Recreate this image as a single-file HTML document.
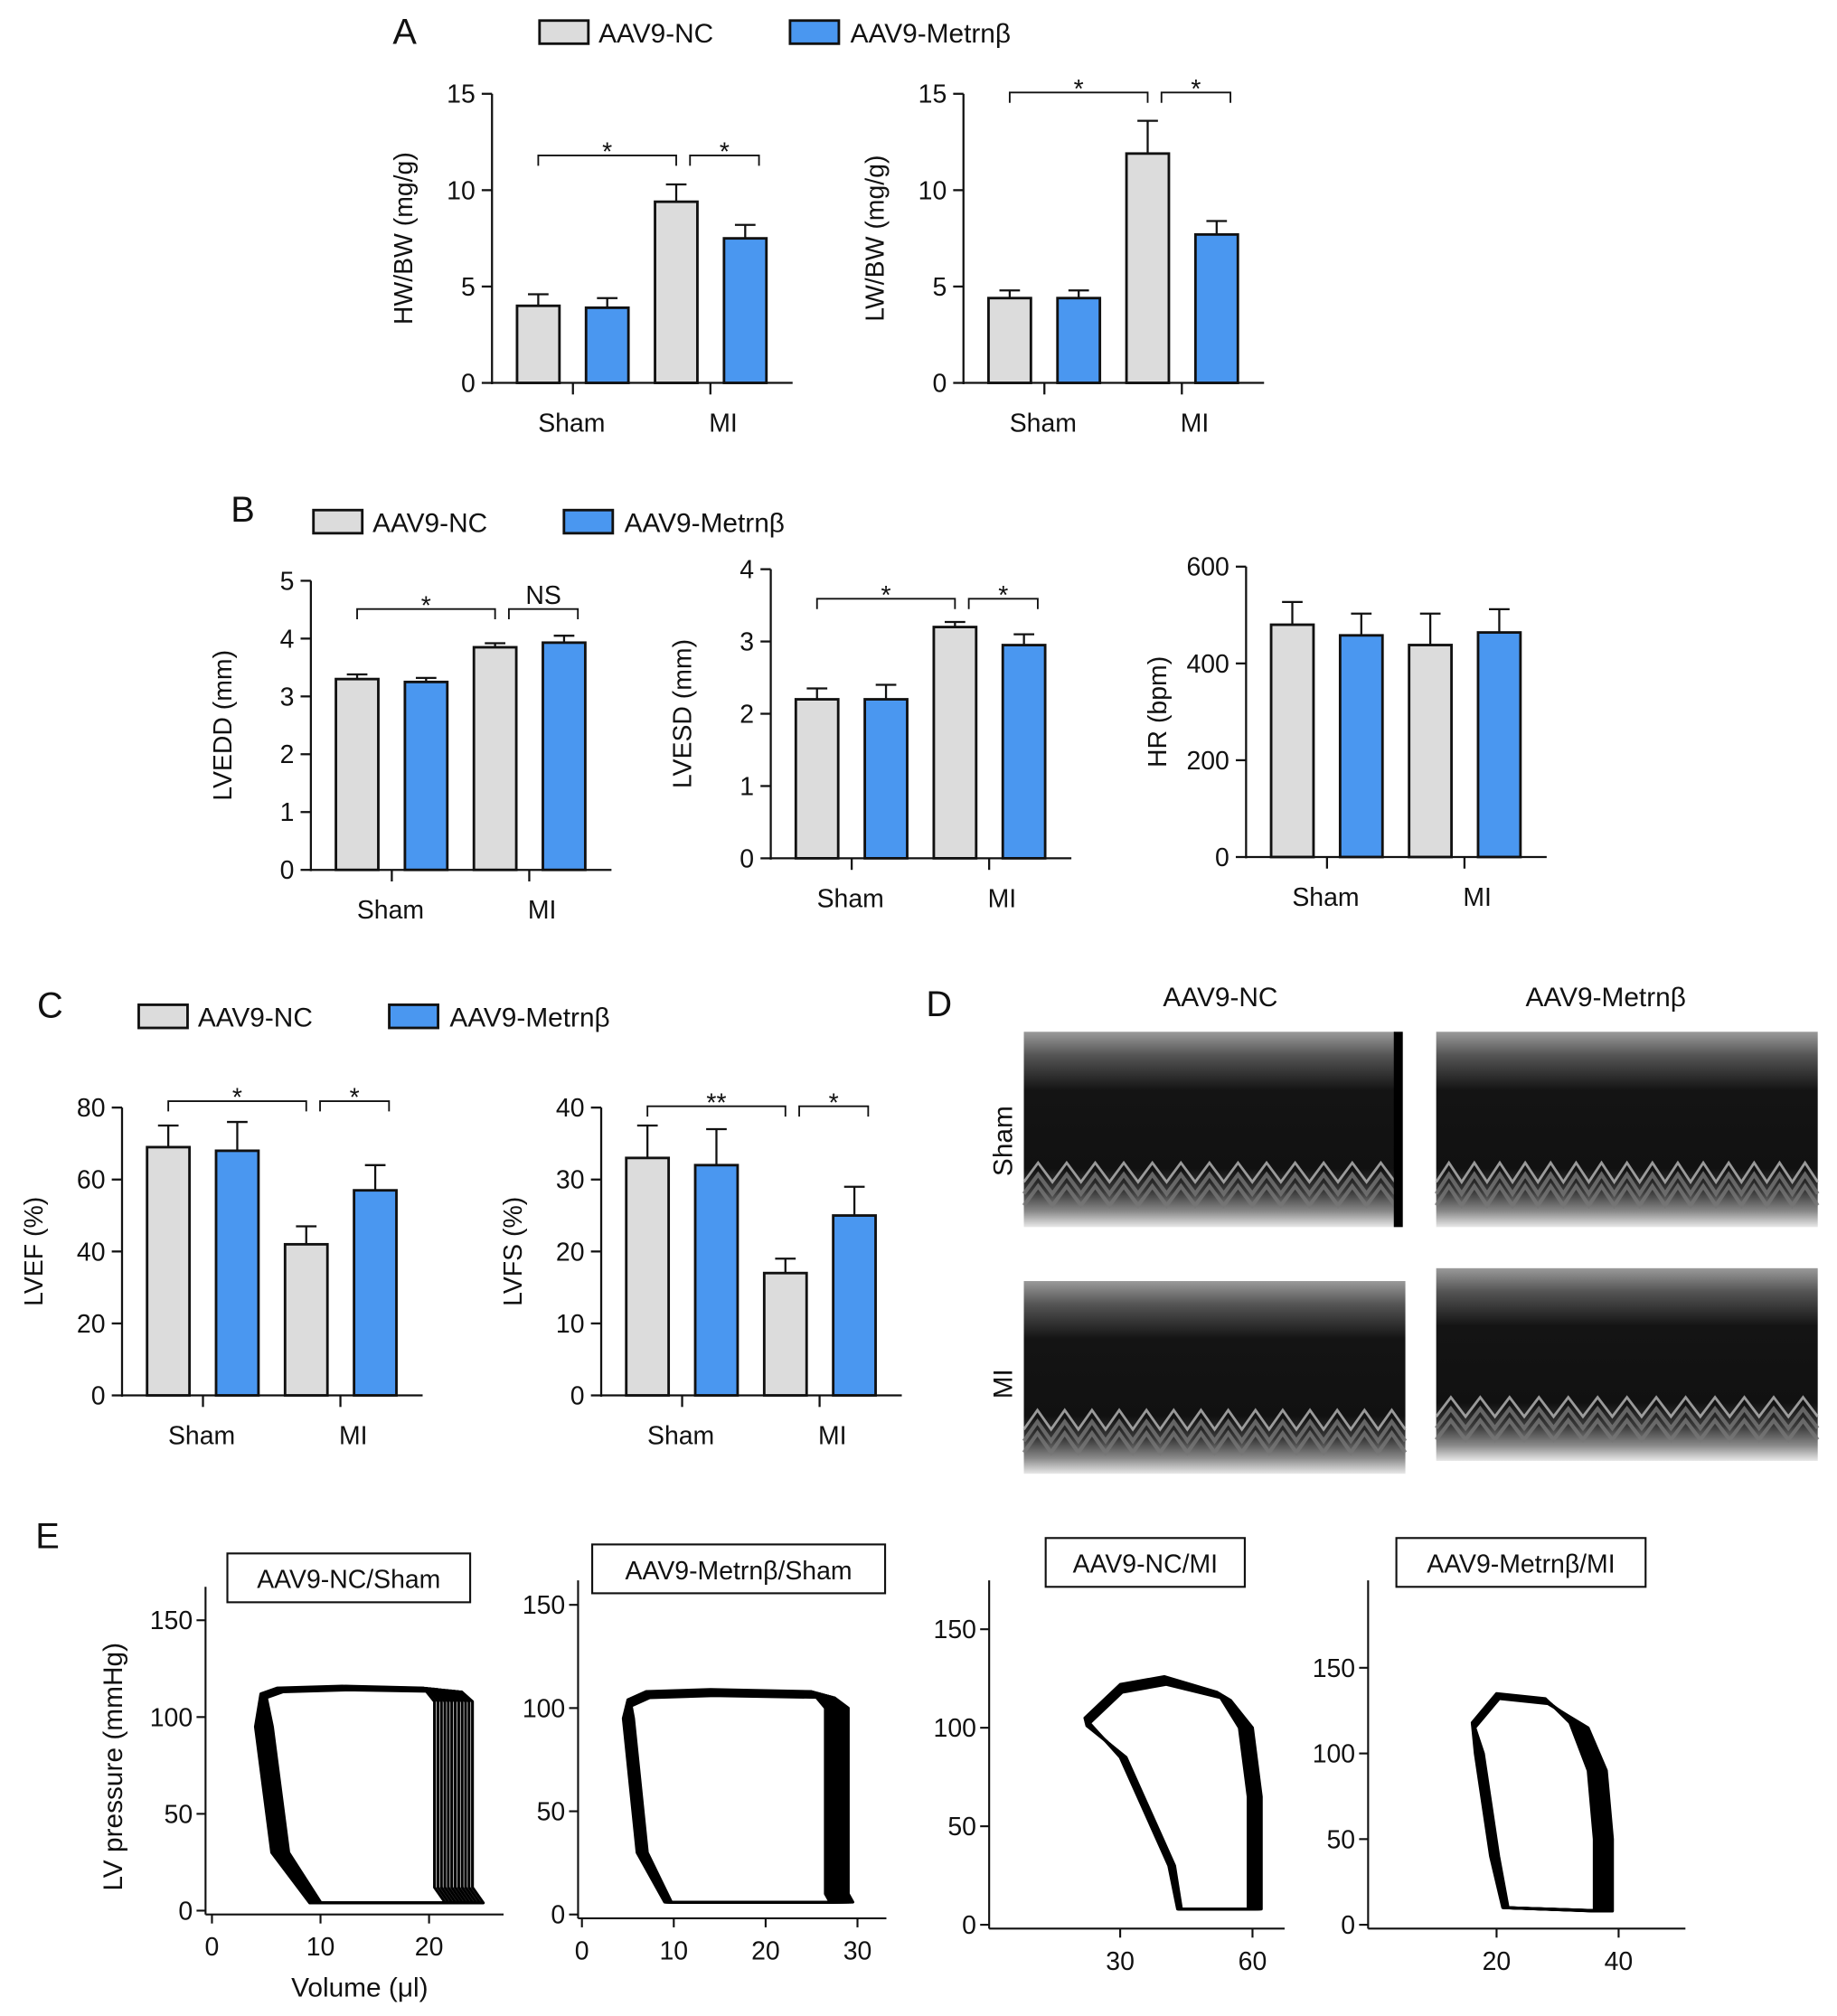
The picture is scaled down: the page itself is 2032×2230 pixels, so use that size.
<!DOCTYPE html>
<html><head><meta charset="utf-8">
<style>
html,body{margin:0;padding:0;background:#fff;}
svg{display:block;font-family:"Liberation Sans",Arial,sans-serif;}
</style></head>
<body>
<svg id="fig" width="2032" height="2230" viewBox="0 0 1430 1569" preserveAspectRatio="none" xmlns="http://www.w3.org/2000/svg">
<defs>
<linearGradient id="echoG" x1="0" y1="0" x2="0" y2="1">
<stop offset="0" stop-color="#9a9a9a"/><stop offset="0.12" stop-color="#555"/><stop offset="0.3" stop-color="#141414"/><stop offset="0.7" stop-color="#111"/><stop offset="0.82" stop-color="#3a3a3a"/><stop offset="0.92" stop-color="#8a8a8a"/><stop offset="1" stop-color="#e8e8e8"/>
</linearGradient>
</defs>
</svg>
<script>
const NS='http://www.w3.org/2000/svg';
const svg=document.getElementById('fig');
function el(tag,attrs,parent){const e=document.createElementNS(NS,tag);for(const k in attrs)e.setAttribute(k,attrs[k]);(parent||svg).appendChild(e);return e;}
function txt(x,y,s,size,anchor,parent,rot){const t=el('text',{x:x,y:y,'font-size':size,'text-anchor':anchor||'middle',fill:'#111'},parent);if(rot)t.setAttribute('transform','rotate(-90 '+x+' '+y+')');t.textContent=s;return t;}

// ===== data =====
const groups=['Sham','MI'];
const seriesNames=['AAV9-NC','AAV9-Metrnβ'];
const hwbwVals=[4.0,3.9,9.4,7.5]; const hwbwErr=[0.6,0.5,0.9,0.7];
const lwbwVals=[4.4,4.4,11.9,7.7]; const lwbwErr=[0.4,0.4,1.7,0.7];
const lveddVals=[3.3,3.25,3.85,3.93]; const lveddErr=[0.08,0.07,0.07,0.12];
const lvesdVals=[2.2,2.2,3.2,2.95]; const lvesdErr=[0.15,0.2,0.07,0.15];
const hrVals=[480,458,438,464]; const hrErr=[47,45,65,48];
const lvefVals=[69,68,42,57]; const lvefErr=[6,8,5,7];
const lvfsVals=[33,32,17,25]; const lvfsErr=[4.5,5,2,4];
const ticks15=[0,5,10,15], ticks5=[0,1,2,3,4,5], ticks4=[0,1,2,3,4], ticks600=[0,200,400,600], ticks80=[0,20,40,60,80], ticks40=[0,10,20,30,40];

function barChart(c){
  const g=el('g',{});
  
  
  const y=v=>c.y0-(v/c.max)*(c.y0-c.yTop);
  const colors=['#dcdcdc','#4a97f0'];
  c.vals.forEach((v,i)=>{
    const cx=c.x0+36+i*53.7;
    const eb=el('line',{x1:cx,x2:cx,y1:y(v),y2:y(v+c.err[i]),stroke:'#111','stroke-width':1.6},g);
    el('line',{x1:cx-8,x2:cx+8,y1:y(v+c.err[i]),y2:y(v+c.err[i]),stroke:'#111','stroke-width':1.6},g);
    const r=el('rect',{x:cx-16.5,y:y(v),width:33,height:c.y0-y(v),fill:colors[i%2],stroke:'#111','stroke-width':2},g);
    
    
  });
  el('line',{x1:c.x0,x2:c.x0,y1:c.y0+1,y2:c.yTop,stroke:'#111','stroke-width':1.6},g);
  el('line',{x1:c.x0,x2:c.x0+234,y1:c.y0,y2:c.y0,stroke:'#111','stroke-width':1.6},g);
  c.ticks.forEach(t=>{el('line',{x1:c.x0-8,x2:c.x0,y1:y(t),y2:y(t),stroke:'#111','stroke-width':1.6},g);txt(c.x0-13,y(t)+7,String(t),20,'end',g);});
  [c.x0+63,c.x0+170].forEach(x=>el('line',{x1:x,x2:x,y1:c.y0,y2:c.y0+9,stroke:'#111','stroke-width':1.6},g));
  txt(c.x0+62,c.y0+38,'Sham',20,'middle',g);txt(c.x0+180,c.y0+38,'MI',20,'middle',g);
  const yl=txt(c.x0-62,(c.y0+c.yTop)/2,c.ylabel,20,'middle',g,true);
  
  (c.sig||[]).forEach(s=>{
    const x1=c.x0+36+s[0]*53.7,x2=c.x0+36+s[1]*53.7,yy=s[2];
    el('path',{d:`M${x1},${yy+8}V${yy}H${x2}V${yy+8}`,fill:'none',stroke:'#111','stroke-width':1.3},g);
    txt((x1+x2)/2,yy-(s[3]=='NS'?4:-4),s[3],s[3]=='NS'?20:20,'middle',g);
  });
}
function legend(x,y,name){
  const g=el('g',{});
  el('rect',{x:x,y:y,width:38,height:18,fill:'#dcdcdc',stroke:'#111','stroke-width':2},g);
  txt(x+46,y+17,seriesNames[0],21,'start',g);
  el('rect',{x:x+195,y:y,width:38,height:18,fill:'#4a97f0',stroke:'#111','stroke-width':2},g);
  txt(x+242,y+17,seriesNames[1],21,'start',g);
}
function panelLabel(x,y,s){const t=txt(x,y,s,28,'middle');}

panelLabel(315,34,'A');legend(420,16,'legend-a');
barChart({name:'hw-bw-chart',x0:383,y0:298,yTop:73,max:15,vals:hwbwVals,err:hwbwErr,ticks:ticks15,ylabel:'HW/BW (mg/g)',sig:[[0,2,121,'*'],[2.2,3.2,121,'*']]});
barChart({name:'lw-bw-chart',x0:750,y0:298,yTop:73,max:15,vals:lwbwVals,err:lwbwErr,ticks:ticks15,ylabel:'LW/BW (mg/g)',sig:[[0,2,72,'*'],[2.2,3.2,72,'*']]});
panelLabel(189,406,'B');legend(244,397,'legend-b');
barChart({name:'lvedd-chart',x0:242,y0:677,yTop:452,max:5,vals:lveddVals,err:lveddErr,ticks:ticks5,ylabel:'LVEDD (mm)',sig:[[0,2,474,'*'],[2.2,3.2,474,'NS']]});
barChart({name:'lvesd-chart',x0:600,y0:668,yTop:443,max:4,vals:lvesdVals,err:lvesdErr,ticks:ticks4,ylabel:'LVESD (mm)',sig:[[0,2,466,'*'],[2.2,3.2,466,'*']]});
barChart({name:'hr-chart',x0:970,y0:667,yTop:441,max:600,vals:hrVals,err:hrErr,ticks:ticks600,ylabel:'HR (bpm)'});
panelLabel(39,792,'C');legend(108,782,'legend-c');
barChart({name:'lvef-chart',x0:95,y0:1086,yTop:862,max:80,vals:lvefVals,err:lvefErr,ticks:ticks80,ylabel:'LVEF (%)',sig:[[0,2,857,'*'],[2.2,3.2,857,'*']]});
barChart({name:'lvfs-chart',x0:468,y0:1086,yTop:862,max:40,vals:lvfsVals,err:lvfsErr,ticks:ticks40,ylabel:'LVFS (%)',sig:[[0,2,861,'**'],[2.2,3.2,861,'*']]});

// ===== D: echo =====
panelLabel(731,791,'D');
txt(950,783,'AAV9-NC',21);txt(1250,783,'AAV9-Metrnβ',21);
txt(788,888,'Sham',21,'middle',null,true);txt(788,1077,'MI',21,'middle',null,true);
function echo(x,y,w,h,name,n){
  const g=el('g',{});
  el('rect',{x:x,y:y,width:w,height:h,fill:'url(#echoG)'},g);
  for(let k=0;k<3;k++){let d='';const yb=y+h*(0.73+k*0.06);const step=w/n;
    for(let i=0;i<=n*2;i++){d+=(i?'L':'M')+(x+i*step/2)+','+(yb+(i%2?-9:6));}
    el('path',{d:d,fill:'none',stroke:k==0?'#bbb':'#777','stroke-width':k==0?2:3,opacity:0.8},g);}
}
echo(797,803,289,152,'echo-nc-sham',13);el('rect',{x:1085,y:803,width:7,height:152,fill:'#000'});
echo(1118,803,297,152,'echo-metrnb-sham',15);
echo(797,997,297,150,'echo-nc-mi',14);echo(1118,987,297,150,'echo-metrnb-mi',13);

// ===== E: PV loops =====
panelLabel(37,1205,'E');
const loop1Vol=[4.5,6,12,19.5,20.5,20.5,21.5,9,5.5,4]; const loop1P=[112,115,116,115,108,12,4,4,30,95];
const loop2Vol=[5,7,14,25,26.5,26.5,27,9,6,4.5]; const loop2P=[104,108,109,108,100,10,6,6,30,95];
const loop3Vol=[22,30,40,52,57,59,59,43,41,30]; const loop3P=[105,122,126,118,100,65,8,8,30,85];
const loop4Vol=[16,20,28,32,35,36,36,21,19,16.5]; const loop4P=[118,135,132,118,90,50,8,10,40,100];
function pv(c){
  const g=el('g',{});
  const X=v=>c.xa+(v-c.va)*(c.xb-c.xa)/(c.vb-c.va);const Y=p=>c.y0-p/150*(c.y0-c.y150);
  el('line',{x1:c.ax,x2:c.ax,y1:c.y0+3,y2:c.yTop,stroke:'#111','stroke-width':1.5},g);
  el('line',{x1:c.ax,x2:c.axEnd,y1:c.y0+3,y2:c.y0+3,stroke:'#111','stroke-width':1.5},g);
  c.yt.forEach(t=>{el('line',{x1:c.ax-7,x2:c.ax,y1:Y(t),y2:Y(t),stroke:'#111','stroke-width':1.5},g);txt(c.ax-10,Y(t)+7,String(t),20,'end',g);});
  c.xt.forEach(t=>{el('line',{x1:X(t),x2:X(t),y1:c.y0+3,y2:c.y0+10,stroke:'#111','stroke-width':1.5},g);txt(X(t),c.y0+35,String(t),20,'middle',g);});
  for(let k=0;k<12;k++){const s=k/11;
    const d=c.vol.map((v,i)=>{const vv=v+(i>=3&&i<=6?s*c.spread:0)+(i>=7?s*c.spread*0.3:0)+(i<3||i>7?s*c.spread*0.15:0);return (i?'L':'M')+X(vv)+','+Y(c.p[i]-s*c.pspread*(i<4?1:0));}).join('')+'Z';
    el('path',{d:d,fill:'none',stroke:'#000','stroke-width':2.2,'stroke-linejoin':'round'},g);}
  const lb=el('g',{},g);
  el('rect',{x:c.lx,y:c.ly,width:c.lw,height:38,fill:'#fff',stroke:'#111','stroke-width':1.5},lb);
  txt(c.lx+c.lw/2,c.ly+27,c.label,20,'middle',lb);
}
pv({name:'pv-loop-nc-sham',vol:loop1Vol,p:loop1P,spread:3.5,pspread:2,ax:160,axEnd:392,y0:1487,y150:1261,yTop:1235,xa:165,xb:334,va:0,vb:20,yt:[0,50,100,150],xt:[0,10,20],lx:177,ly:1209,lw:189,label:'AAV9-NC/Sham'});
pv({name:'pv-loop-metrnb-sham',vol:loop2Vol,p:loop2P,spread:2.5,pspread:3,ax:450,axEnd:690,y0:1490,y150:1249,yTop:1230,xa:453,xb:596,va:0,vb:20,yt:[0,50,100,150],xt:[0,10,20,30],lx:461,ly:1202,lw:228,label:'AAV9-Metrnβ/Sham'});
pv({name:'pv-loop-nc-mi',vol:loop3Vol,p:loop3P,spread:3,pspread:4,ax:770,axEnd:1000,y0:1498,y150:1268,yTop:1230,xa:872,xb:975,va:30,vb:60,yt:[0,50,100,150],xt:[30,60],lx:814,ly:1197,lw:155,label:'AAV9-NC/MI'});
pv({name:'pv-loop-metrnb-mi',vol:loop4Vol,p:loop4P,spread:3,pspread:3,ax:1065,axEnd:1312,y0:1498,y150:1298,yTop:1230,xa:1165,xb:1260,va:20,vb:40,yt:[0,50,100,150],xt:[20,40],lx:1087,ly:1197,lw:194,label:'AAV9-Metrnβ/MI'});
const yt=txt(95,1375,'LV pressure (mmHg)',21,'middle',null,true);
const xt=txt(280,1554,'Volume (μl)',21,'middle');
</script>
</body></html>
